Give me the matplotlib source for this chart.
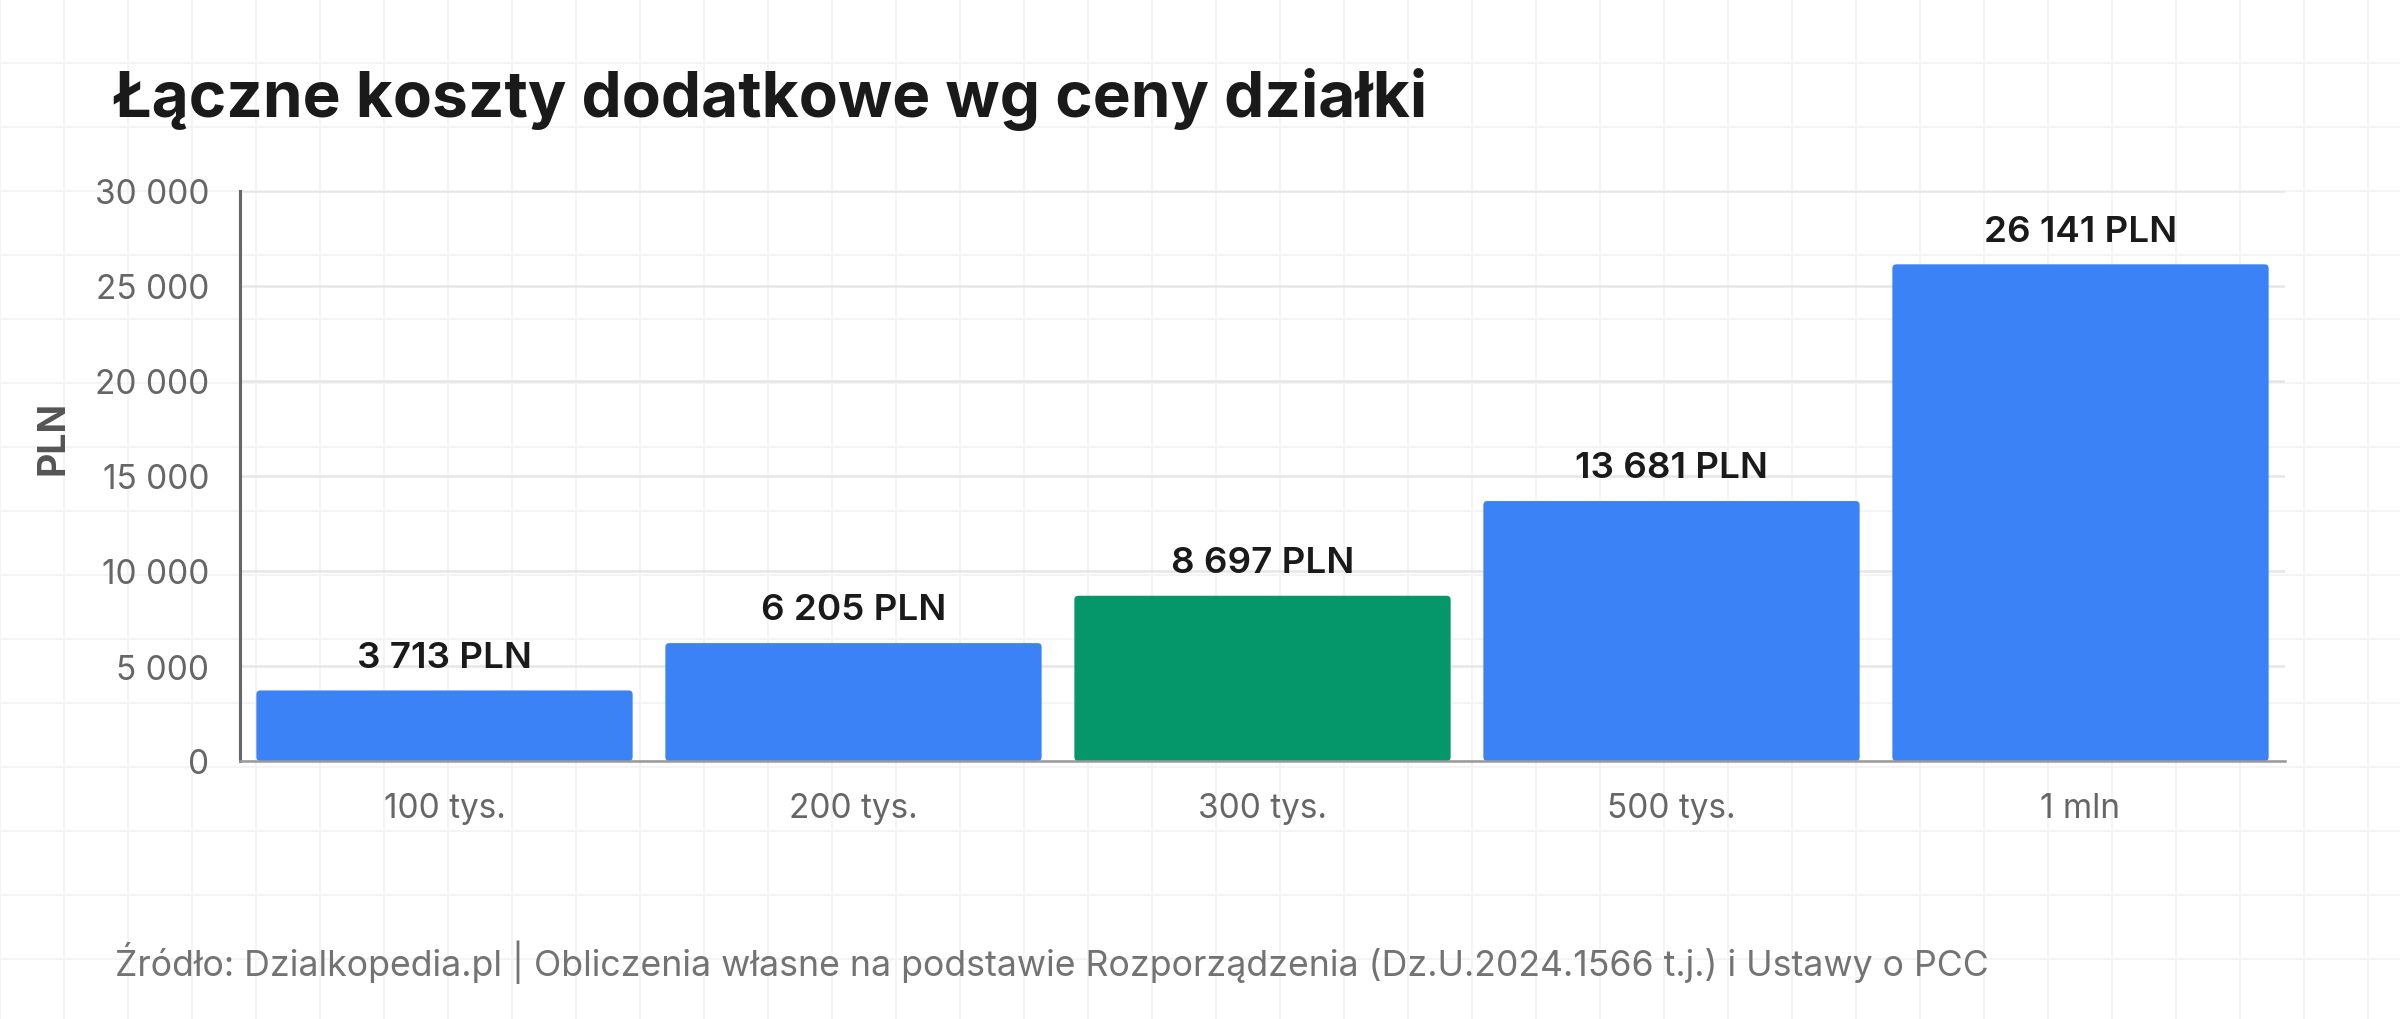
import matplotlib
matplotlib.use("Agg")
import matplotlib.pyplot as plt
from matplotlib.patches import FancyBboxPatch
from matplotlib.ticker import FuncFormatter

plt.rcParams['font.family'] = ['Inter', 'DejaVu Sans']

categories = ["100 tys.", "200 tys.", "300 tys.", "500 tys.", "1 mln"]
values = [3713, 6205, 8697, 13681, 26141]
bar_colors = ["#3B82F6", "#3B82F6", "#059669", "#3B82F6", "#3B82F6"]
y_ticks = [0, 5000, 10000, 15000, 20000, 25000, 30000]

title = "Łączne koszty dodatkowe wg ceny działki"
source = ("Źródło: Dzialkopedia.pl | Obliczenia własne na podstawie "
          "Rozporządzenia (Dz.U.2024.1566 t.j.) i Ustawy o PCC")


def spaced(v):
    return f"{int(v):,}".replace(",", " ")


W, H = 2400, 1020
fig = plt.figure(figsize=(W / 100, H / 100), dpi=100)
fig.patch.set_facecolor("white")

# faint background grid over the whole canvas
bg = fig.add_axes([0, 0, 1, 1], zorder=0)
bg.set_xlim(0, W)
bg.set_ylim(H, 0)
bg.axis("off")
for gx in range(0, W + 1, 64):
    bg.axvline(gx, color="#f2f2f2", lw=1.2)
for gy in range(0, H + 1, 64):
    bg.axhline(gy, color="#f2f2f2", lw=1.2)

ax = fig.add_axes([240 / W, 1 - 762 / H, (2285 - 240) / W, (762 - 192) / H], zorder=1)
ax.set_facecolor("none")

x = list(range(len(categories)))
bars = ax.bar(x, values, width=0.92, color=bar_colors, zorder=3)

ax.set_xlim(-0.5, len(categories) - 0.5)
ax.set_ylim(0, 30000)

# rounded bar corners
px_x = (len(categories)) / 2045
px_y = 30000 / 570
for b in bars:
    b.set_visible(False)
    rp = FancyBboxPatch((b.get_x(), b.get_y()), b.get_width(), b.get_height(),
                        boxstyle="round,pad=0,rounding_size=%f" % (4 * px_x),
                        mutation_aspect=px_y / px_x,
                        facecolor=b.get_facecolor(), edgecolor="none", zorder=3)
    ax.add_patch(rp)

for xi, v in zip(x, values):
    ax.annotate(f"{spaced(v)} PLN", (xi, v), xytext=(0, 12), textcoords="offset points",
                ha="center", va="bottom", fontsize=26.5, fontweight="semibold",
                color="#1a1a1a", zorder=4)

ax.set_yticks(y_ticks)
ax.yaxis.set_major_formatter(FuncFormatter(lambda v, p: spaced(v)))
ax.set_xticks(x)
ax.set_xticklabels(categories)
ax.tick_params(axis="both", length=0, labelsize=24, labelcolor="#666666")
ax.tick_params(axis="y", pad=22)
ax.tick_params(axis="x", pad=22)

ax.grid(axis="y", color="#e6e6e6", lw=1.8, zorder=1)
ax.set_axisbelow(True)

for s in ["top", "right"]:
    ax.spines[s].set_visible(False)
ax.spines["left"].set_color("#666666")
ax.spines["left"].set_linewidth(2.2)
ax.spines["bottom"].set_color("#999999")
ax.spines["bottom"].set_linewidth(1.8)
ax.spines["bottom"].set_zorder(5)

fig.text(53 / W, 1 - 438 / H, "PLN", rotation=90, ha="center", va="center",
         fontsize=27, fontweight="bold", color="#555555")

fig.text(113 / W, 1 - 117 / H, title, ha="left", va="baseline",
         fontsize=46, fontweight="bold", color="#1a1a1a")

fig.text(115 / W, 1 - 976 / H, source, ha="left", va="baseline",
         fontsize=25.7, color="#737373")

fig.savefig("out.png", dpi=100, facecolor="white")
